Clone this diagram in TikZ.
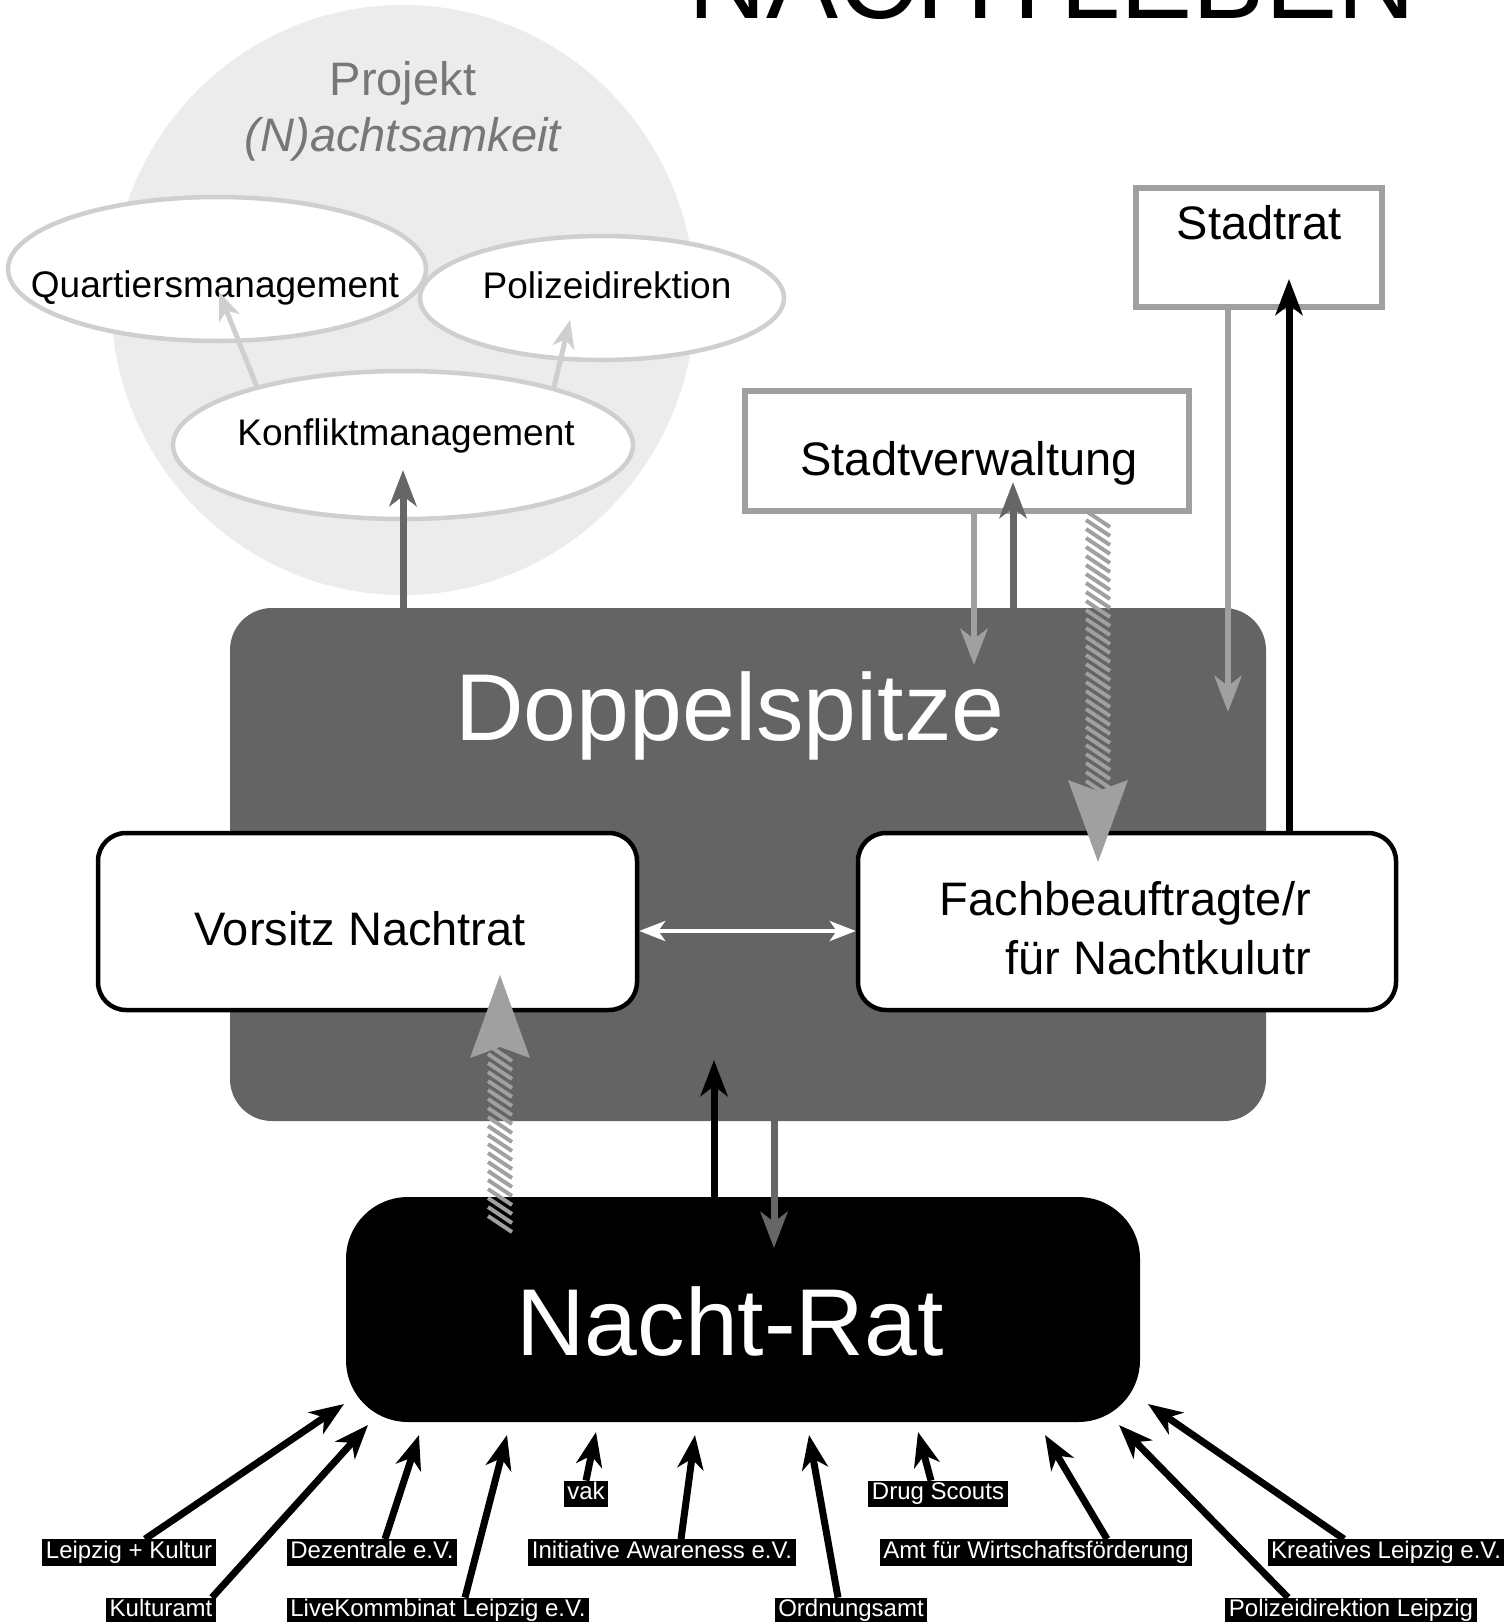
\documentclass[tikz,border=0pt]{standalone}
\usepackage{fontspec}
\setmainfont{Liberation Sans}
\usetikzlibrary{arrows.meta,shapes.geometric,calc}
\definecolor{dsgrey}{RGB}{100,100,100}
\definecolor{circgrey}{RGB}{236,236,236}
\definecolor{ellgrey}{RGB}{207,207,207}
\definecolor{boxgrey}{RGB}{160,160,160}
\definecolor{txtgrey}{RGB}{119,119,119}
\definecolor{midgrey}{RGB}{102,102,102}
\newcommand\myfs[1]{\fontsize{#1}{#1}\selectfont}
\begin{document}
\begin{tikzpicture}[x=1pt,y=-1pt,
  ell/.style={ellipse, draw=ellgrey, line width=4.5pt, fill=white, inner sep=0pt},
  gbox/.style={rectangle, draw=boxgrey, line width=6.5pt, fill=white, inner sep=0pt},
  wbox/.style={rectangle, rounded corners=28pt, draw=black, line width=4.5pt, fill=white, inner sep=0pt},
  txt/.style={anchor=base, inner sep=0pt},
  lab/.style={fill=black, text=white, font=\myfs{24}, inner xsep=3.5pt, inner ysep=1.5pt, text height=17.5pt, text depth=6pt},
  larr/.style={draw=black, line width=7pt, -{Stealth[length=34pt,width=26pt,inset=10pt]}},
  barr/.style={draw=black, line width=7pt, -{Stealth[length=36pt,width=27pt,inset=10pt]}},
  darr/.style={draw=midgrey, line width=7pt, -{Stealth[length=36pt,width=27pt,inset=10pt]}},
  garr/.style={draw=boxgrey, line width=6.5pt, -{Stealth[length=36pt,width=27pt,inset=10pt]}},
  carr/.style={draw=ellgrey, line width=5pt, -{Stealth[length=28pt,width=22pt,inset=8pt]}},
  warr/.style={draw=white, line width=4pt, {Stealth[length=26pt,width=20pt,inset=7pt]}-{Stealth[length=26pt,width=20pt,inset=7pt]}},
  hatch/.style={draw=boxgrey, line width=4pt},
  hhead/.style={fill=boxgrey}
]
\useasboundingbox (0,0) rectangle (1511,1622);
\fill[white] (0,0) rectangle (1511,1622);

% title
\node[txt, font=\myfs{108}] (title) at (1052,19) {NACHTLEBEN};

% project circle
\node[ellipse, fill=circgrey, minimum width=584pt, minimum height=590pt, inner sep=0pt] (proj) at (403,300) {};
\node[txt, text=txtgrey, font=\myfs{47}] (projA) at ([yshift=205pt]proj.center) {Projekt};
\node[txt, text=txtgrey, font=\myfs{47}\itshape] (projB) at ([yshift=149pt]proj.center) {(N)achtsamkeit};

\node[ell, minimum width=418pt, minimum height=144pt] (qm) at (217,269) {};
\node[txt, font=\myfs{37}] (qmT) at ([xshift=-2pt, yshift=-28pt]qm.center) {Quartiersmanagement};
\node[ell, minimum width=364pt, minimum height=124pt] (pd) at (602,298) {};
\node[txt, font=\myfs{37}] (pdT) at ([xshift=5pt]pd.center) {Polizeidirektion};
\node[ell, minimum width=460pt, minimum height=148pt] (km) at (403,445) {};
\node[txt, font=\myfs{37}] (kmT) at ([xshift=3pt]km.center) {Konfliktmanagement};

\coordinate (qmt) at (219,292);
\coordinate (pdt) at (570,320);
\draw[carr] (km.158) -- (qmt);
\draw[carr] (km.21) -- (pdt);

% boxes
\node[rectangle, rounded corners=42pt, fill=dsgrey, minimum width=1036pt, minimum height=513pt, inner sep=0pt] (ds) at (748,864.5) {};
\node[txt, text=white, font=\myfs{95}] (dsT) at ([xshift=-18pt, yshift=124.5pt]ds.center) {Doppelspitze};

\node[gbox, minimum width=246pt, minimum height=119pt] (st) at (1259,247.5) {};
\node[txt, font=\myfs{47}] (stT) at ([yshift=8.5pt]st.center) {Stadtrat};
\node[gbox, minimum width=444pt, minimum height=120pt] (sv) at (967,451) {};
\node[txt, font=\myfs{47}] (svT) at ([xshift=2pt, yshift=-24pt]sv.center) {Stadtverwaltung};

\node[wbox, minimum width=539pt, minimum height=177pt] (vn) at (367.5,921.5) {};
\node[txt, font=\myfs{47}] (vnT) at ([xshift=-7.5pt, yshift=-23.5pt]vn.center) {Vorsitz Nachtrat};
\node[wbox, minimum width=538pt, minimum height=177pt] (fb) at (1127,921.5) {};
\node[txt, anchor=base east, font=\myfs{47}] (fbA) at ([xshift=184pt, yshift=6.5pt]fb.center) {Fachbeauftragte/r};
\node[txt, anchor=base east, font=\myfs{47}] (fbB) at ([xshift=184pt, yshift=-52.5pt]fb.center) {für Nachtkulutr};

\node[rectangle, rounded corners=62pt, fill=black, minimum width=794pt, minimum height=225pt, inner sep=0pt] (nr) at (743,1309.5) {};
\node[txt, text=white, font=\myfs{95}] (nrT) at ([xshift=-13pt, yshift=-45.5pt]nr.center) {Nacht-Rat};

% connectors
\coordinate (kmt) at (403,470);
\draw[darr] (km |- ds.north) -- (kmt);

\coordinate (svd) at (974,665);
\draw[garr] ([xshift=7pt]sv.south) -- (svd);
\coordinate (svu) at (1013,482);
\draw[darr] ([xshift=265pt]ds.north) -- (svu);

\coordinate (std) at (1228,712);
\draw[garr] ([xshift=-31pt]st.south) -- (std);
\coordinate (stu) at (1289,279);
\draw[barr] ([xshift=162pt]fb.north) -- (stu);

\draw[warr] ([yshift=-9.5pt]vn.east) -- ([yshift=-9.5pt]fb.west);

\coordinate (nru) at (714,1060);
\draw[barr] ([xshift=-29pt]nr.north) -- (nru);
\coordinate (nrd) at (774,1248);
\draw[darr] ([xshift=26pt]ds.south) -- (nrd);

% hatched arrow Stadtverwaltung -> Fachbeauftragte
\coordinate (h1s) at (1098,513);
\coordinate (h1e) at (1098,862);
\foreach \k in {0,...,31} \draw[hatch] (1086,{511+9*\k}) -- (1110,{527+9*\k});
\fill[hhead] (h1e) -- (1128,780) -- (1098,791) -- (1068,780) -- cycle;

% hatched arrow Nacht-Rat -> Vorsitz
\coordinate (h2s) at (500,1228);
\coordinate (h2e) at (500,975);
\foreach \k in {0,...,19} \draw[hatch] (488,{1045+9*\k}) -- (512,{1061+9*\k});
\fill[hhead] (h2e) -- (530,1058) -- (500,1047) -- (470,1058) -- cycle;

% member labels
\node[lab] (l1) at (129,1552.5) {Leipzig + Kultur};
\node[lab] (l2) at (161,1611) {Kulturamt};
\node[lab] (l3) at (372,1552.5) {Dezentrale e.V.};
\node[lab] (l4) at (438,1611) {LiveKommbinat Leipzig e.V.};
\node[lab] (l5) at (586,1494) {vak};
\node[lab] (l6) at (662,1552.5) {Initiative Awareness e.V.};
\node[lab] (l7) at (851,1611) {Ordnungsamt};
\node[lab] (l8) at (938,1494) {Drug Scouts};
\node[lab] (l9) at (1036,1552.5) {Amt für Wirtschaftsförderung};
\node[lab] (l10) at (1351,1611) {Polizeidirektion Leipzig};
\node[lab] (l11) at (1386,1552.5) {Kreatives Leipzig e.V.};

\coordinate (t1) at (344,1404);
\coordinate (t2) at (368,1425);
\coordinate (t3) at (419,1435);
\coordinate (t4) at (507,1435);
\coordinate (t5) at (596,1432);
\coordinate (t6) at (695,1435);
\coordinate (t7) at (809,1435);
\coordinate (t8) at (918,1432);
\coordinate (t9) at (1045,1435);
\coordinate (t10) at (1119,1425);
\coordinate (t11) at (1148,1404);

\draw[larr] ([xshift=16pt]l1.north) -- (t1);
\draw[larr] ([xshift=51pt]l2.north) -- (t2);
\draw[larr] ([xshift=13pt]l3.north) -- (t3);
\draw[larr] ([xshift=27pt]l4.north) -- (t4);
\draw[larr] (l5.north) -- (t5);
\draw[larr] ([xshift=19pt]l6.north) -- (t6);
\draw[larr] ([xshift=-13pt]l7.north) -- (t7);
\draw[larr] ([xshift=-7pt]l8.north) -- (t8);
\draw[larr] ([xshift=71pt]l9.north) -- (t9);
\draw[larr] ([xshift=-63pt]l10.north) -- (t10);
\draw[larr] ([xshift=-42pt]l11.north) -- (t11);
\end{tikzpicture}
\end{document}
